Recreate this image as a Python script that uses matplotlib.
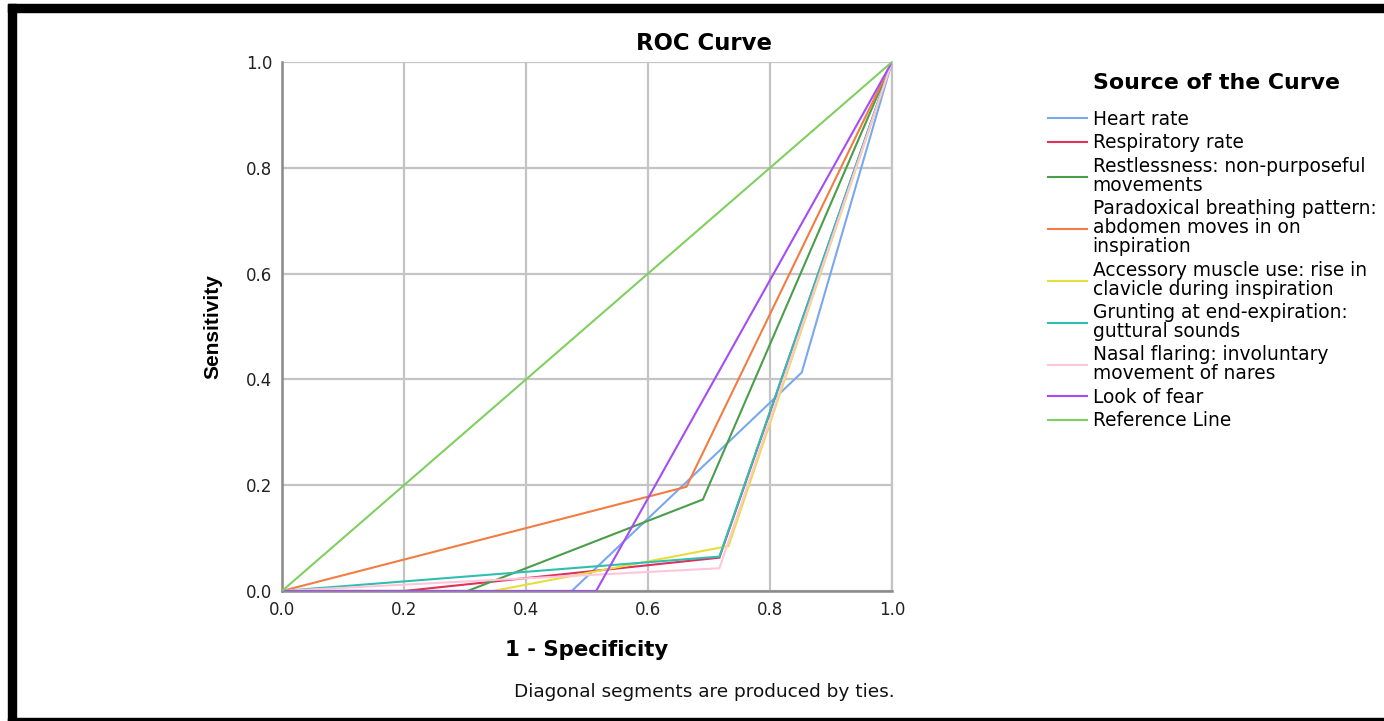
import matplotlib
matplotlib.use("Agg")
import matplotlib.pyplot as plt
from matplotlib.patches import Rectangle

plt.rcParams['font.family'] = ['DejaVu Sans']

# ---- data ----
labels = [
    "Heart rate",
    "Respiratory rate",
    "Restlessness: non-purposeful\nmovements",
    "Paradoxical breathing pattern:\nabdomen moves in on\ninspiration",
    "Accessory muscle use: rise in\nclavicle during inspiration",
    "Grunting at end-expiration:\nguttural sounds",
    "Nasal flaring: involuntary\nmovement of nares",
    "Look of fear",
    "Reference Line",
]
heart_x = [0, 0.475, 0.852, 1]
heart_y = [0, 0, 0.413, 1]
resp_x = [0, 0.2, 0.717, 1]
resp_y = [0, 0, 0.063, 1]
restless_x = [0, 0.304, 0.690, 1]
restless_y = [0, 0, 0.173, 1]
parad_x = [0, 0.663, 1]
parad_y = [0, 0.197, 1]
access_x = [0, 0.346, 0.732, 1]
access_y = [0, 0, 0.085, 1]
grunt_x = [0, 0.717, 1]
grunt_y = [0, 0.065, 1]
nasal_x = [0, 0.717, 1]
nasal_y = [0, 0.043, 1]
fear_x = [0, 0.515, 1]
fear_y = [0, 0, 1]
ref_x = [0, 1]
ref_y = [0, 1]

series_x = [heart_x, resp_x, restless_x, parad_x, access_x, grunt_x, nasal_x, fear_x, ref_x]
series_y = [heart_y, resp_y, restless_y, parad_y, access_y, grunt_y, nasal_y, fear_y, ref_y]
colors = ["#79a8ee", "#e0305c", "#4a9e4a", "#f27c42", "#e6de3a",
          "#2fbfb0", "#ffc6da", "#a54cf4", "#80d060"]

fig = plt.figure(figsize=(13.84, 7.21), dpi=100)
ax = fig.add_axes([282/1384, 1-591/721, 610/1384, 529/721])

for xs, ys, c, lab in zip(series_x, series_y, colors, labels):
    ax.plot(xs, ys, color=c, lw=1.5, label=lab, solid_joinstyle='miter', zorder=3)

ax.set_xlim(0, 1)
ax.set_ylim(0, 1)
ticks = [0.0, 0.2, 0.4, 0.6, 0.8, 1.0]
ax.set_xticks(ticks)
ax.set_yticks(ticks)
ax.set_xticklabels([f"{t:.1f}" for t in ticks])
ax.set_yticklabels([f"{t:.1f}" for t in ticks])
ax.tick_params(length=0, labelsize=12, colors="#222222", pad=7)
ax.grid(True, color="#c4c4c4", lw=1.6, zorder=0)
ax.spines["top"].set_visible(False)
for s in ["left", "bottom"]:
    ax.spines[s].set_color("#8a8a8a")
    ax.spines[s].set_linewidth(1.8)
ax.spines["right"].set_color("#c4c4c4")
ax.spines["right"].set_linewidth(1.6)

ax.set_xlabel("1 - Specificity", fontsize=15.3, fontweight='bold', labelpad=15)
ax.set_ylabel("Sensitivity", fontsize=15, fontweight='bold', labelpad=17,
              family=['Liberation Sans', 'DejaVu Sans'])
fig.text(704/1384, 1-43/721, "ROC Curve", fontsize=16.4, fontweight='bold',
         ha='center', va='center')
fig.text(514/1384, 1-692/721, "Diagonal segments are produced by ties.",
         fontsize=13.3, ha='left', va='center', color="#111111")

leg = ax.legend(loc='upper left', bbox_to_anchor=(1048/1384, 1-73/721),
                bbox_transform=fig.transFigure, frameon=False, fontsize=13.4,
                title="Source of the Curve", handlelength=2.1, handletextpad=0.3,
                labelspacing=0.24, borderaxespad=0, borderpad=0)
leg.get_title().set_fontweight('bold')
leg.get_title().set_fontsize(15.8)
leg._legend_box.align = "left"
leg._legend_box.sep = 12
for t in leg.get_texts():
    t.set_linespacing(1.0)
leg.get_title().set_position((45, 0))

# frame border
fig.patches.append(Rectangle((8/1384, 0), 8/1384, 1-4/721, transform=fig.transFigure,
                             color="black", zorder=10))
fig.patches.append(Rectangle((8/1384, 1-12/721), 1, 8/721, transform=fig.transFigure,
                             color="black", zorder=10))
fig.patches.append(Rectangle((8/1384, 0), 1, 3/721, transform=fig.transFigure,
                             color="black", zorder=10))

fig.savefig("out.png", dpi=100)
